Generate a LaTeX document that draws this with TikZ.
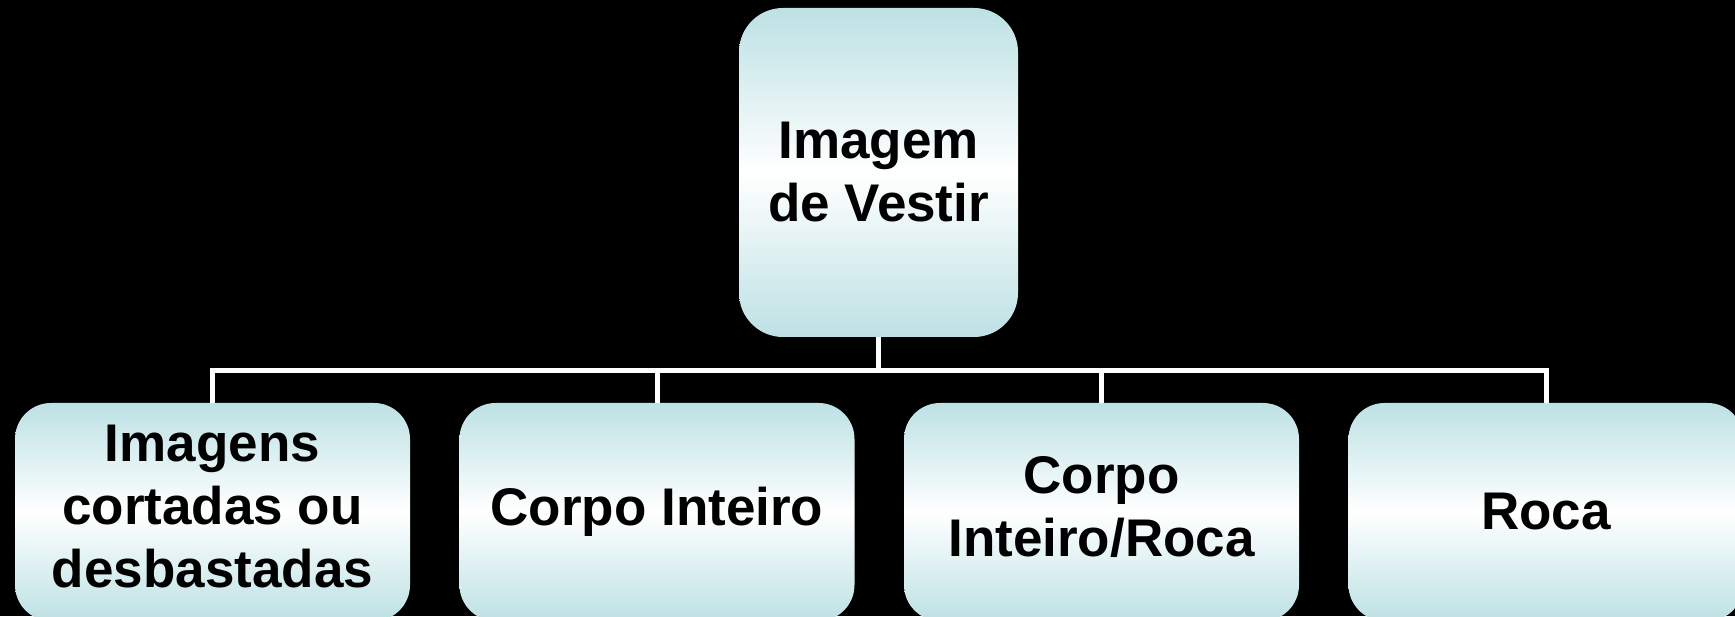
\documentclass[tikz,border=0pt]{standalone}
\usepackage{fontspec}
\setmainfont{Liberation Sans}
\definecolor{boxcyan}{RGB}{189,225,228}
\begin{document}
\begin{tikzpicture}[
    x=1pt, y=1pt,
    box/.style={rectangle, rounded corners=36pt, top color=boxcyan, bottom color=boxcyan,
                middle color=white, align=center, inner sep=0pt,
                minimum width=395pt, minimum height=218pt,
                font=\fontsize{53}{63}\selectfont\bfseries},
    rootbox/.style={box, rounded corners=44pt, minimum width=279pt, minimum height=329pt},
    conn/.style={draw=white, line width=5pt},
  ]

  % === background ===
  \path[clip] (0,0) rectangle (1735,616);
  \fill[black] (0,0) rectangle (1735,616);

  % === root ===
  \node[rootbox] (root) at (878.5, 443.5) {Imagem\\de Vestir};

  % === children ===
  \node[box] (cut)   at (212.5, 104) {\strut Imagens\\cortadas ou\\desbastadas\strut};
  \node[box] (body)  at (657, 104) {Corpo Inteiro};
  \node[box] (bodyr) at (1101.5, 104) {\strut Corpo\\Inteiro/Roca\strut};
  \node[box] (roca)  at (1546, 104) {Roca};

  % connectors
  \draw[conn] (root.south) -- ++(0,-33) -| (cut.north);
  \draw[conn] (root.south) -- ++(0,-33) -| (body.north);
  \draw[conn] (root.south) -- ++(0,-33) -| (bodyr.north);
  \draw[conn] (root.south) -- ++(0,-33) -| (roca.north);

\end{tikzpicture}
\end{document}
